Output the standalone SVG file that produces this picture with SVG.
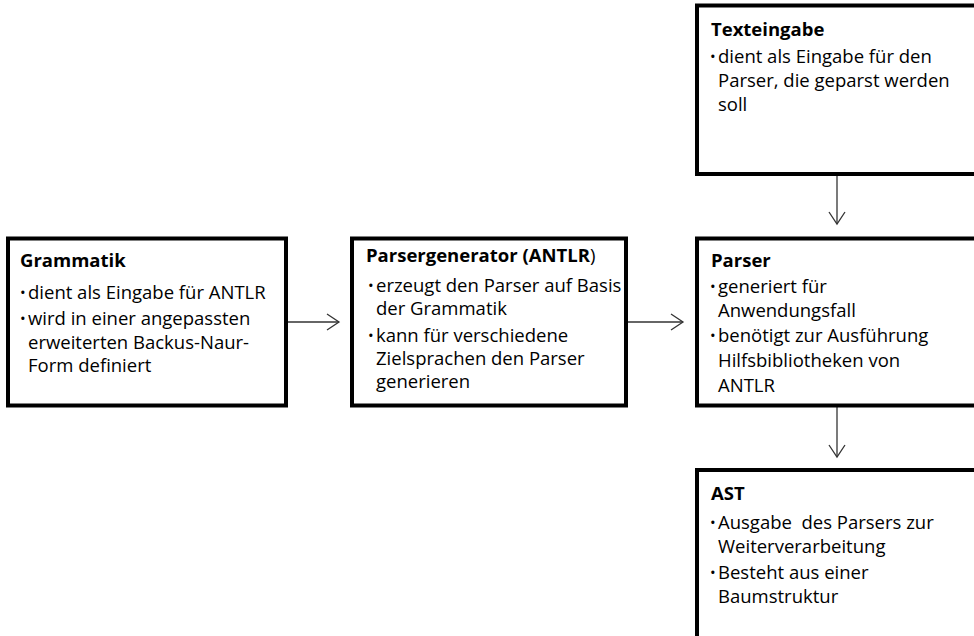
<svg xmlns="http://www.w3.org/2000/svg" width="974" height="636" viewBox="0 0 974 636">
  <style>
    .box { fill: #ffffff; stroke: #000000; stroke-width: 4; }
    .t { font-family: "Open Sans", "Noto Sans", "Liberation Sans", sans-serif; font-size: 18.5px; fill: #000000; }
    .h { font-weight: bold; }
    .b { font-family: "Open Sans", "Liberation Sans", sans-serif; font-size: 15px; fill: #000000; }
    .pre { white-space: pre; }
    .conn { fill: none; stroke: #333333; stroke-width: 1.3; }
  </style>
  <rect width="974" height="636" fill="#ffffff"/>

  <g id="connectors">
    <line class="conn" x1="288" y1="322" x2="339" y2="322"/>
    <polyline class="conn" points="327,314 339,322 327,330"/>
    <line class="conn" x1="628" y1="322" x2="683" y2="322"/>
    <polyline class="conn" points="671,314 683,322 671,330"/>
    <line class="conn" x1="837" y1="176" x2="837" y2="224"/>
    <polyline class="conn" points="829,212 837,224 845,212"/>
    <line class="conn" x1="837" y1="407" x2="837" y2="457"/>
    <polyline class="conn" points="829,445 837,457 845,445"/>
  </g>

  <g id="grammatik">
    <rect class="box" x="8" y="238.5" width="278" height="167"/>
    <text class="t h" x="20" y="267">Grammatik</text>
    <text class="b" x="20" y="298">•</text>
    <text class="t" x="28" y="299">dient als Eingabe für ANTLR</text>
    <text class="b" x="20" y="324">•</text>
    <text class="t" x="28" y="325">wird in einer angepassten</text>
    <text class="t" x="28" y="348.5">erweiterten Backus-Naur-</text>
    <text class="t" x="28" y="372">Form definiert</text>
  </g>

  <g id="parsergenerator">
    <rect class="box" x="352" y="238.5" width="274" height="167"/>
    <text class="t h" x="366" y="262">Parsergenerator (ANTLR<tspan font-weight="normal">)</tspan></text>
    <text class="b" x="368" y="291">•</text>
    <text class="t" x="376" y="292">erzeugt den Parser auf Basis</text>
    <text class="t" x="376" y="315">der Grammatik</text>
    <text class="b" x="368" y="341">•</text>
    <text class="t" x="376" y="342">kann für verschiedene</text>
    <text class="t" x="376" y="365">Zielsprachen den Parser</text>
    <text class="t" x="376" y="388">generieren</text>
  </g>

  <g id="texteingabe">
    <rect class="box" x="697" y="5.5" width="300" height="168.5"/>
    <text class="t h" x="711" y="36">Texteingabe</text>
    <text class="b" x="710" y="62">•</text>
    <text class="t" x="718" y="63">dient als Eingabe für den</text>
    <text class="t" x="718" y="87">Parser, die geparst werden</text>
    <text class="t" x="718" y="111">soll</text>
  </g>

  <g id="parser">
    <rect class="box" x="697" y="238.5" width="300" height="167"/>
    <text class="t h" x="711" y="267">Parser</text>
    <text class="b" x="710" y="292">•</text>
    <text class="t" x="718" y="293">generiert für</text>
    <text class="t" x="718" y="316.5">Anwendungsfall</text>
    <text class="b" x="710" y="341">•</text>
    <text class="t" x="718" y="342">benötigt zur Ausführung</text>
    <text class="t" x="718" y="367">Hilfsbibliotheken von</text>
    <text class="t" x="718" y="391.5">ANTLR</text>
  </g>

  <g id="ast">
    <rect class="box" x="697" y="470" width="300" height="200"/>
    <text class="t h" x="711" y="499.5">AST</text>
    <text class="b" x="710" y="528">•</text>
    <text class="t pre" x="718" y="529">Ausgabe  des Parsers zur</text>
    <text class="t" x="718" y="552.5">Weiterverarbeitung</text>
    <text class="b" x="710" y="578">•</text>
    <text class="t" x="718" y="579">Besteht aus einer</text>
    <text class="t" x="718" y="602.5">Baumstruktur</text>
  </g>
</svg>
